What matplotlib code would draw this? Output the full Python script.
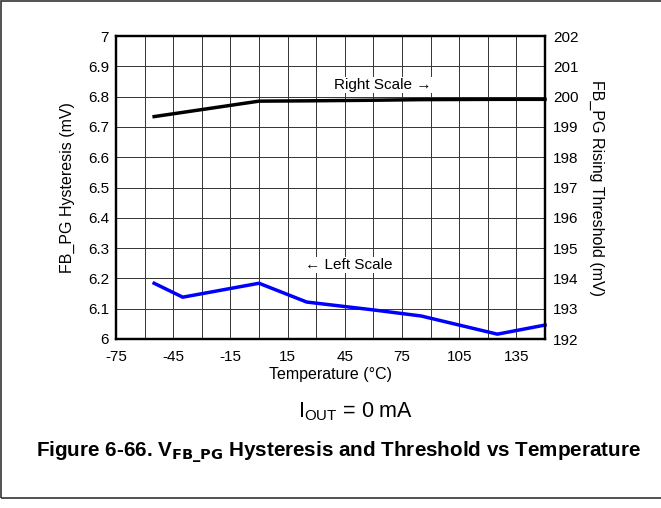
import matplotlib
matplotlib.use("Agg")
import matplotlib.pyplot as plt
import numpy as np

plt.rcParams['font.family'] = ['Liberation Sans', 'DejaVu Sans']
plt.rcParams['axes.unicode_minus'] = False

# data
temp_hyst = [-55, -40, 0, 25, 60, 85, 125, 150]
hyst = [6.184, 6.138, 6.184, 6.122, 6.096, 6.076, 6.016, 6.046]
temp_thr = [-55, 0, 25, 60, 85, 125, 150]
thr = [199.34, 199.85, 199.86, 199.88, 199.9, 199.91, 199.91]

xticks = np.arange(-75, 151, 30)
yticks_l = np.round(np.arange(6, 7.01, 0.1), 1)
yticks_r = np.arange(192, 203, 1)

fig = plt.figure(figsize=(6.61, 5.08), dpi=100)
ax = fig.add_axes([116/661, 1-339/508, 429/661, 303/508])
ax2 = ax.twinx()

ax.set_xlim(-75, 150)
ax.set_ylim(6, 7)
ax2.set_ylim(192, 202)

ax.set_xticks(xticks)
ax.set_xticks(np.arange(-75, 151, 15), minor=True)
ax.set_yticks(yticks_l)
ax.set_yticklabels([('%g' % v) for v in yticks_l])
ax2.set_yticks(yticks_r)
ax.grid(True, which='both', color='#333333', lw=0.7)
ax.tick_params(which='both', length=0, labelsize=11, pad=5)
ax.tick_params(axis='x', pad=8)
ax2.tick_params(length=0, labelsize=11, pad=6)

for a in (ax, ax2):
    for s in a.spines.values():
        s.set_linewidth(1.6)
        s.set_color('black')

ax.plot(temp_hyst, hyst, color='#0000ff', lw=2.5, clip_on=False, zorder=5)
ax2.plot(temp_thr, thr, color='black', lw=2.5, clip_on=False, zorder=5)

ax.text(47, 6.245, '\u2190 Left Scale', ha='center', va='center', fontsize=11,
        bbox=dict(facecolor='white', edgecolor='none', pad=0.5))
ax2.text(65, 200.38, 'Right Scale \u2192', ha='center', va='center', fontsize=11,
         bbox=dict(facecolor='white', edgecolor='none', pad=0.5))

ax.set_xlabel('Temperature (\u00b0C)', fontsize=11.5, labelpad=2)
ax.set_ylabel('FB_PG Hysteresis (mV)', fontsize=11.5, labelpad=9)
ax2.set_ylabel('FB_PG Rising Threshold (mV)', fontsize=11.5, rotation=270, labelpad=18)

fig.text(356/661, 1-412/508, r'I$_{\mathregular{OUT}}$ = 0 mA', ha='center', va='center', fontsize=15.5)
fig.text(338.5/661, 1-452/508, r'Figure 6-66. V$_{\mathbf{FB\_PG}}$ Hysteresis and Threshold vs Temperature',
         ha='center', va='center', fontsize=14.9, fontweight='bold')

# page frame
fig.patches.append(plt.Rectangle((1/661, 1-498/508), 1.2, 497/508, transform=fig.transFigure,
                                 fill=False, edgecolor='#333333', lw=1.2))

fig.savefig('out.png', dpi=100)
